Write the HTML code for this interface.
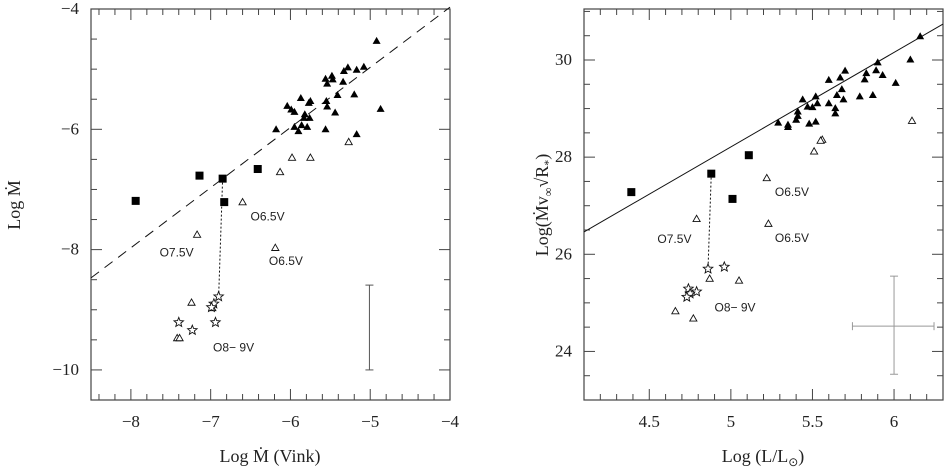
<!DOCTYPE html>
<html><head><meta charset="utf-8"><style>
html,body{margin:0;padding:0;background:#fff;}
svg{display:block;font-family:"Liberation Serif",serif;}
</style></head><body>
<svg id="chart" width="944" height="470" viewBox="0 0 944 470"></svg>
<script>
// ---------- Left panel data ----------
const leftFilledTri = [[-4.92,-4.53],[-5.28,-4.97],[-5.33,-5.03],[-5.17,-5.01],[-5.08,-4.96],[-5.56,-5.16],[-5.48,-5.11],[-5.47,-5.17],[-5.54,-5.24],[-5.34,-5.21],[-5.87,-5.48],[-5.75,-5.53],[-5.77,-5.56],[-5.55,-5.53],[-5.41,-5.43],[-5.20,-5.42],[-6.04,-5.61],[-5.99,-5.67],[-5.95,-5.71],[-5.82,-5.75],[-5.76,-5.81],[-5.83,-5.81],[-5.54,-5.62],[-5.44,-5.72],[-6.18,-6.00],[-5.95,-5.96],[-5.86,-5.93],[-5.79,-5.96],[-5.90,-6.03],[-5.56,-6.00],[-5.17,-6.08],[-4.87,-5.66]];
const leftSquares = [[-7.94,-7.19],[-7.14,-6.77],[-6.85,-6.82],[-6.41,-6.66],[-6.83,-7.21]];
const leftOpenTri = [[-5.98,-6.47],[-5.75,-6.47],[-6.13,-6.71],[-5.27,-6.21],[-6.60,-7.21],[-7.17,-7.75],[-6.19,-7.97],[-7.24,-8.88],[-6.98,-8.97],[-7.42,-9.47],[-7.39,-9.47]];
const leftStars = [[-6.90,-8.78],[-6.96,-8.90],[-6.99,-8.96],[-6.94,-9.21],[-7.40,-9.21],[-7.23,-9.34]];
const leftLink = [[-6.85,-6.82],[-6.90,-8.78]];
const leftFit = [[-8.5,-8.47],[-4,-3.97]];
const leftErr = [-5.01,-8.59,-10.0];
const leftLabels = [["O6.5V",-6.50,-7.43],["O7.5V",-7.64,-8.03],["O6.5V",-6.27,-8.17],["O8\u2212 9V",-6.97,-9.61]];
const leftXTicks = ["\u22128","\u22127","\u22126","\u22125","\u22124"];
const leftXTickVals = [-8,-7,-6,-5,-4];
const leftYTicks = ["\u22124","\u22126","\u22128","\u221210"];
const leftYTickVals = [-4,-6,-8,-10];

// ---------- Right panel data ----------
const rightFilledTri = [[6.16,30.49],[6.10,30.01],[5.90,29.95],[5.89,29.79],[5.93,29.69],[5.83,29.73],[5.82,29.60],[6.01,29.53],[5.70,29.78],[5.67,29.64],[5.60,29.59],[5.68,29.40],[5.65,29.28],[5.69,29.19],[5.79,29.25],[5.87,29.28],[5.44,29.19],[5.52,29.25],[5.47,29.04],[5.50,29.03],[5.53,29.11],[5.60,29.11],[5.64,29.01],[5.64,28.90],[5.41,28.94],[5.41,28.85],[5.40,28.77],[5.29,28.71],[5.35,28.67],[5.35,28.62],[5.48,28.69],[5.52,28.73]];
const rightOpenTri = [[6.11,28.75],[5.56,28.36],[5.55,28.34],[5.51,28.12],[5.22,27.57],[5.23,26.63],[4.79,26.73],[4.87,25.50],[5.05,25.46],[4.66,24.83],[4.77,24.68]];
const rightSquares = [[4.39,27.28],[4.88,27.66],[5.11,28.04],[5.01,27.14]];
const rightStars = [[4.86,25.70],[4.96,25.74],[4.74,25.29],[4.79,25.23],[4.75,25.19],[4.73,25.12]];
const rightLink = [[4.88,27.66],[4.86,25.70]];
const rightFit = [[4.1,26.46],[6.3,30.74]];
const rightErr = [6.0,24.52,23.53,25.55,5.745,6.245];
const rightLabels = [["O6.5V",5.27,27.30],["O6.5V",5.27,26.36],["O7.5V",4.55,26.34],["O8\u2212 9V",4.90,24.92]];
const rightXTicks = ["4.5","5","5.5","6"];
const rightXTickVals = [4.5,5,5.5,6];
const rightYTicks = ["30","28","26","24"];
const rightYTickVals = [30,28,26,24];

const NS="http://www.w3.org/2000/svg";
const svg=document.getElementById('chart');
function mk(tag,attrs,parent){const e=document.createElementNS(NS,tag);for(const k in attrs)e.setAttribute(k,attrs[k]);(parent||svg).appendChild(e);return e;}

function panel(cfg){
  const g=mk('g',{});
  
  
  const sx=v=>cfg.x0+(v-cfg.xmin)/(cfg.xmax-cfg.xmin)*(cfg.x1-cfg.x0);
  const sy=v=>cfg.y1-(v-cfg.ymin)/(cfg.ymax-cfg.ymin)*(cfg.y1-cfg.y0);
  const frame=mk('rect',{x:cfg.x0,y:cfg.y0,width:cfg.x1-cfg.x0,height:cfg.y1-cfg.y0,fill:'none',stroke:'#444','stroke-width':1.2},g);
  
  
  // minor/major ticks
  const tg=mk('g',{stroke:'#444','stroke-width':1},g);
  
  
  for(let i=0;;i++){const v=cfg.xTickStart+i*cfg.xMinor; if(v>cfg.xmax+1e-6)break; const x=sx(v);
    const maj=Math.abs(v/cfg.xMajor-Math.round(v/cfg.xMajor))<1e-3; const L=maj?11:6;
    mk('line',{x1:x,x2:x,y1:cfg.y1,y2:cfg.y1-L},tg); mk('line',{x1:x,x2:x,y1:cfg.y0,y2:cfg.y0+L},tg);}
  for(let i=0;;i++){const v=cfg.yTickStart+i*cfg.yMinor; if(v>cfg.ymax+1e-6)break; const y=sy(v);
    const maj=Math.abs(v/cfg.yMajor-Math.round(v/cfg.yMajor))<1e-3; const L=maj?11:6;
    mk('line',{x1:cfg.x0,x2:cfg.x0+L,y1:y,y2:y},tg); mk('line',{x1:cfg.x1,x2:cfg.x1-L,y1:y,y2:y},tg);}
  cfg.xTickVals.forEach((v,i)=>{const t=mk('text',{x:sx(v),y:cfg.y1+27,'text-anchor':'middle','font-size':17,fill:'#222'},g);t.textContent=cfg.xTicks[i];
    
    });
  cfg.yTickVals.forEach((v,i)=>{const t=mk('text',{x:cfg.x0-12,y:sy(v)+5,'text-anchor':'end','font-size':17,fill:'#222'},g);t.textContent=cfg.yTicks[i];
    
    });
  // fit line
  const f=mk('line',{x1:sx(cfg.fit[0][0]),y1:sy(cfg.fit[0][1]),x2:sx(cfg.fit[1][0]),y2:sy(cfg.fit[1][1]),stroke:'#111','stroke-width':1,'stroke-dasharray':cfg.fitDash||'none'},g);
  
  
  const l=mk('line',{x1:sx(cfg.link[0][0]),y1:sy(cfg.link[0][1]),x2:sx(cfg.link[1][0]),y2:sy(cfg.link[1][1]),stroke:'#111','stroke-width':1,'stroke-dasharray':'2,2'},g);
  
  
  const tri=(x,y,s)=>`${x},${y-s} ${x-s},${y+s*0.75} ${x+s},${y+s*0.75}`;
  cfg.filledTri.forEach(p=>{const e=mk('polygon',{points:tri(sx(p[0]),sy(p[1]),4),fill:'#000'},g);
    
    });
  cfg.openTri.forEach(p=>{const e=mk('polygon',{points:tri(sx(p[0]),sy(p[1]),3.6),fill:'#fff',stroke:'#111','stroke-width':0.9},g);
    
    });
  cfg.squares.forEach(p=>{const e=mk('rect',{x:sx(p[0])-4,y:sy(p[1])-4,width:8,height:8,fill:'#000'},g);
    
    });
  cfg.stars.forEach(p=>{const cx=sx(p[0]),cy=sy(p[1]);let pts=[];for(let k=0;k<10;k++){const r=k%2?2.2:5;const a=-Math.PI/2+k*Math.PI/5;pts.push((cx+r*Math.cos(a)).toFixed(1)+','+(cy+r*Math.sin(a)).toFixed(1));}
    const e=mk('polygon',{points:pts.join(' '),fill:'#fff',stroke:'#111','stroke-width':0.9},g);
    
    });
  cfg.labels.forEach(a=>{const t=mk('text',{x:sx(a[1]),y:sy(a[2])+5,'font-family':'"Liberation Sans",sans-serif','font-size':12,fill:'#222'},g);t.textContent=a[0];
    
    });
  return {g,sx,sy};
}

const L=panel({name:'left-panel',x0:91,x1:450,y0:9,y1:400,xmin:-8.5,xmax:-4,ymin:-10.5,ymax:-4,
  xTickStart:-8.4,xMinor:0.2,xMajor:1,yTickStart:-10.5,yMinor:0.5,yMajor:2,
  xTicks:leftXTicks,xTickVals:leftXTickVals,yTicks:leftYTicks,yTickVals:leftYTickVals,
  fit:leftFit,fitDash:'10,7',link:leftLink,filledTri:leftFilledTri,openTri:leftOpenTri,squares:leftSquares,stars:leftStars,labels:leftLabels});
// left error bar
{const x=L.sx(leftErr[0]);const e=mk('g',{stroke:'#555','stroke-width':1},L.g);
 
 
 mk('line',{x1:x,x2:x,y1:L.sy(leftErr[1]),y2:L.sy(leftErr[2])},e);
 mk('line',{x1:x-4,x2:x+4,y1:L.sy(leftErr[1]),y2:L.sy(leftErr[1])},e);
 mk('line',{x1:x-4,x2:x+4,y1:L.sy(leftErr[2]),y2:L.sy(leftErr[2])},e);}

const R=panel({name:'right-panel',x0:584,x1:943,y0:9,y1:400,xmin:4.1,xmax:6.3,ymin:23.0,ymax:31.05,
  xTickStart:4.1,xMinor:0.1,xMajor:0.5,yTickStart:23.0,yMinor:0.5,yMajor:2,
  xTicks:rightXTicks,xTickVals:rightXTickVals,yTicks:rightYTicks,yTickVals:rightYTickVals,
  fit:rightFit,link:rightLink,filledTri:rightFilledTri,openTri:rightOpenTri,squares:rightSquares,stars:rightStars,labels:rightLabels});
{const e=mk('g',{stroke:'#999','stroke-width':1},R.g);
 
 
 const cx=R.sx(rightErr[0]),cy=R.sy(rightErr[1]);
 mk('line',{x1:cx,x2:cx,y1:R.sy(rightErr[2]),y2:R.sy(rightErr[3])},e);
 mk('line',{x1:cx-4,x2:cx+4,y1:R.sy(rightErr[2]),y2:R.sy(rightErr[2])},e);
 mk('line',{x1:cx-4,x2:cx+4,y1:R.sy(rightErr[3]),y2:R.sy(rightErr[3])},e);
 mk('line',{x1:R.sx(rightErr[4]),x2:R.sx(rightErr[5]),y1:cy,y2:cy},e);
 mk('line',{x1:R.sx(rightErr[4]),x2:R.sx(rightErr[4]),y1:cy-4,y2:cy+4},e);
 mk('line',{x1:R.sx(rightErr[5]),x2:R.sx(rightErr[5]),y1:cy-4,y2:cy+4},e);}
</script>
<svg style="position:absolute;left:0;top:0" width="944" height="470">
  <text x="0" y="0" transform="translate(20,205) rotate(-90)" text-anchor="middle" font-family="Liberation Serif,serif" font-size="18" fill="#222">Log Ṁ</text>
  <text x="270" y="462" text-anchor="middle" font-family="Liberation Serif,serif" font-size="18" fill="#222">Log Ṁ (Vink)</text>
  <text x="0" y="0" transform="translate(548,205) rotate(-90)" text-anchor="middle" font-family="Liberation Serif,serif" font-size="18" fill="#222">Log(Ṁv<tspan font-size="12" dy="4">∞</tspan><tspan dy="-4">√R</tspan><tspan font-size="12" dy="4">*</tspan><tspan dy="-4">)</tspan></text>
  <text x="763" y="462" text-anchor="middle" font-family="Liberation Serif,serif" font-size="18" fill="#222">Log (L/L<tspan font-size="12" dy="4">⊙</tspan><tspan dy="-4">)</tspan></text>
</svg>
</body></html>
